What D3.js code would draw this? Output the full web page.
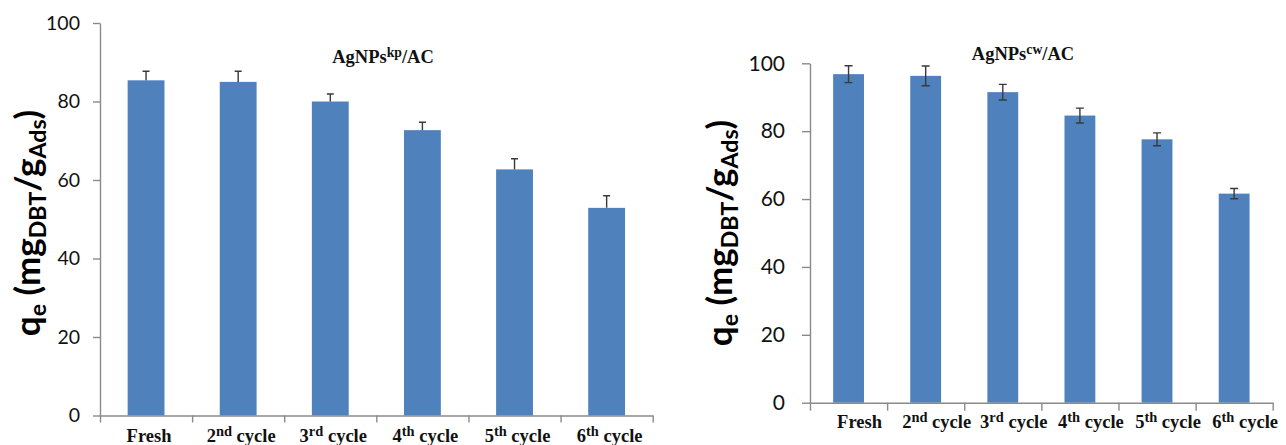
<!DOCTYPE html>
<html>
<head>
<meta charset="utf-8">
<script src="https://cdn.jsdelivr.net/npm/d3@7"></script>
<style>
  html, body { margin: 0; padding: 0; background: #fff; }
  svg { display: block; }
</style>
</head>
<body>
<svg id="chart" width="1286" height="445"></svg>
<script>
// Adsorption capacity over regeneration cycles
const categories = ["Fresh", "2nd cycle", "3rd cycle", "4th cycle", "5th cycle", "6th cycle"];
const yTicks = [0, 20, 40, 60, 80, 100];

// AgNPs(kp)/AC
const kpValues = [85.4, 85.0, 80.0, 72.7, 62.7, 52.9];
const kpErrors = [2.3, 2.7, 1.9, 2.0, 2.7, 3.1];

// AgNPs(cw)/AC
const cwValues = [96.8, 96.3, 91.5, 84.6, 77.6, 61.6];
const cwErrors = [2.5, 2.9, 2.3, 2.2, 1.9, 1.5];

const svg = d3.select("#chart");
const BAR = "#4F81BD";
const AXIS = "#8a8a8a";
const ERR = "#3a3a3a";

function drawPanel(o) {
  const g = svg.append("g");
  const x = d3.scaleBand().domain(categories).range([o.x0, o.x1])
    .paddingInner(0.6).paddingOuter(0.3);
  const xb = d3.scaleLinear().domain([0, categories.length]).range([o.x0, o.x1]);
  const y = d3.scaleLinear().domain([0, 100]).range([o.y0, o.y1]);

  // y axis
  const ya = g.append("g").attr("transform", `translate(${o.x0},0)`)
    .call(d3.axisLeft(y).tickValues(yTicks).tickSize(o.tick).tickSizeOuter(0).tickPadding(o.pad));
  ya.select(".domain").attr("stroke", AXIS).attr("stroke-width", 1.4);
  ya.selectAll(".tick line").attr("stroke", AXIS).attr("stroke-width", 1.4);
  ya.selectAll(".tick text").attr("font-family", "Lato, 'Open Sans', sans-serif")
    .attr("font-size", o.tickFont).attr("fill", "#111");

  // bars
  g.selectAll("rect.bar").data(categories).join("rect")
    .attr("class", "bar")
    .attr("x", d => x(d))
    .attr("width", x.bandwidth())
    .attr("y", (d, i) => y(o.values[i]))
    .attr("height", (d, i) => y(0) - y(o.values[i]))
    .attr("fill", BAR);

  // x axis with ticks at the category boundaries
  const xa = g.append("g").attr("transform", `translate(0,${o.y0})`)
    .call(d3.axisBottom(xb).ticks(categories.length).tickFormat("").tickSize(o.tick).tickSizeOuter(0));
  xa.select(".domain").attr("stroke", AXIS).attr("stroke-width", 1.4);
  xa.selectAll(".tick line").attr("stroke", AXIS).attr("stroke-width", 1.4);

  // error bars
  const cap = o.cap / 2;
  const eb = g.selectAll("g.err").data(categories).join("g").attr("class", "err")
    .attr("stroke", ERR).attr("stroke-width", 1.4).attr("fill", "none");
  eb.append("path").attr("d", (d, i) => {
    const cx = x(d) + x.bandwidth() / 2;
    const hi = y(o.values[i] + o.errors[i]);
    const lo = o.both ? y(o.values[i] - o.errors[i]) : y(o.values[i]);
    let p = `M${cx},${lo}V${hi}M${cx - cap},${hi}H${cx + cap}`;
    if (o.both) p += `M${cx - cap},${lo}H${cx + cap}`;
    return p;
  });

  // category labels with ordinal superscripts
  const lab = g.selectAll("text.cat").data(categories).join("text")
    .attr("class", "cat")
    .attr("x", d => x(d) + x.bandwidth() / 2 + o.labShift)
    .attr("y", o.labY)
    .attr("text-anchor", "middle")
    .attr("font-family", "'Liberation Serif', 'Times New Roman', serif")
    .attr("font-weight", "bold")
    .attr("font-size", o.labFont)
    .attr("fill", "#111");
  lab.each(function (d) {
    const t = d3.select(this);
    const m = d.match(/^(\d)(st|nd|rd|th) (.*)$/);
    if (!m) { t.text(d); return; }
    t.append("tspan").text(m[1]);
    t.append("tspan").attr("font-size", o.labFont * 0.78).attr("dy", -o.labFont * 0.32).text(m[2]);
    t.append("tspan").attr("dy", o.labFont * 0.32).text(" " + m[3]);
  });

  // panel title
  const ti = g.append("text")
    .attr("x", o.titleX).attr("y", o.titleY)
    .attr("text-anchor", "middle")
    .attr("font-family", "'Liberation Serif', 'Times New Roman', serif")
    .attr("font-weight", "bold").attr("font-size", o.titleFont).attr("fill", "#111");
  ti.append("tspan").text("AgNPs");
  ti.append("tspan").attr("font-size", o.titleFont * 0.74).attr("dy", -o.titleFont * 0.3).text(o.sup);
  ti.append("tspan").attr("dy", o.titleFont * 0.3).text("/AC");

  // y axis title: q_e (mg_DBT / g_Ads)
  const F = o.yFont, S = o.yFont * 0.66, sh = o.yFont * 0.17;
  const yt = g.append("text")
    .attr("transform", `translate(${o.yTitleX},${o.yTitleY}) rotate(-90)`)
    .attr("text-anchor", "middle")
    .attr("font-family", "Lato, 'Open Sans', sans-serif")
    .attr("font-weight", "bold").attr("font-size", F).attr("fill", "#000");
  yt.append("tspan").text("q");
  yt.append("tspan").attr("font-size", S).attr("dy", sh).text("e");
  yt.append("tspan").attr("dy", -sh).text(" (mg");
  yt.append("tspan").attr("font-size", S).attr("dy", sh).text("DBT");
  yt.append("tspan").attr("dy", -sh).text("/g");
  yt.append("tspan").attr("font-size", S).attr("dy", sh).text("Ads");
  yt.append("tspan").attr("dy", -sh).text(")");
}

drawPanel({
  values: kpValues, errors: kpErrors, both: false,
  x0: 100, x1: 652.7, y0: 415.5, y1: 23,
  tick: 7, pad: 13, tickFont: 19.5, cap: 7,
  labY: 442, labFont: 18.5, labShift: 3,
  titleX: 383, titleY: 63, titleFont: 18.5, sup: "kp",
  yTitleX: 40, yTitleY: 223, yFont: 35
});

drawPanel({
  values: cwValues, errors: cwErrors, both: true,
  x0: 810, x1: 1272.7, y0: 402.7, y1: 63.3,
  tick: 8, pad: 17, tickFont: 21, cap: 8,
  labY: 428, labFont: 18.5, labShift: 11,
  titleX: 1023, titleY: 60, titleFont: 18.5, sup: "cw",
  yTitleX: 732, yTitleY: 233, yFont: 35
});
</script>
</body>
</html>
